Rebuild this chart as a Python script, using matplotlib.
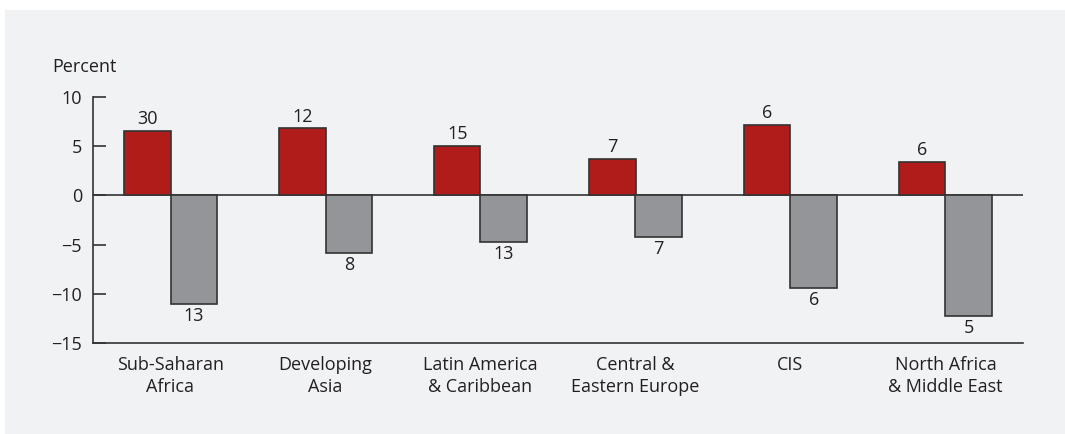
import matplotlib
matplotlib.use("Agg")
from matplotlib import pyplot as plt
import numpy as np

categories = ["Sub-Saharan\nAfrica", "Developing\nAsia", "Latin America\n& Caribbean",
              "Central &\nEastern Europe", "CIS", "North Africa\n& Middle East"]
red_values = [6.5, 6.8, 5.0, 3.7, 7.2, 3.4]
gray_values = [-11.0, -5.9, -4.7, -4.25, -9.4, -12.3]
red_labels = ["30", "12", "15", "7", "6", "6"]
gray_labels = ["13", "8", "13", "7", "6", "5"]

RED = "#B01C1A"
GRAY = "#939598"
EDGE = "#333333"
PANEL = "#F1F2F4"
TEXT = "#231F20"

plt.rcParams["font.family"] = ["Open Sans", "DejaVu Sans"]
plt.rcParams["font.size"] = 13

fig = plt.figure(figsize=(10.65, 4.34), dpi=100)
fig.patch.set_facecolor("white")
# grey panel behind the chart
fig.patches.append(plt.Rectangle((5 / 1065, 0), 1060 / 1065, 424 / 434,
                                 transform=fig.transFigure, facecolor=PANEL,
                                 edgecolor="none", zorder=-1))

ax = fig.add_axes([93 / 1065, 1 - 343 / 434, 930 / 1065, 246 / 434])
ax.set_facecolor(PANEL)

x = np.arange(len(categories))
w = 0.3
ax.bar(x - w / 2, red_values, width=w, color=RED, edgecolor=EDGE, linewidth=1.2, zorder=3)
ax.bar(x + w / 2, gray_values, width=w, color=GRAY, edgecolor=EDGE, linewidth=1.2, zorder=3)

for i in range(len(categories)):
    ax.text(x[i] - w / 2, red_values[i] + 0.3, red_labels[i], ha="center", va="bottom",
            color=TEXT, fontsize=13)
    ax.text(x[i] + w / 2, gray_values[i] - 0.3, gray_labels[i], ha="center", va="top",
            color=TEXT, fontsize=13)

ax.axhline(0, color=EDGE, linewidth=1.2, zorder=2)

ax.set_xlim(-0.5, 5.5)
ax.set_ylim(-15, 10)
ax.set_yticks([-15, -10, -5, 0, 5, 10])
ax.set_yticklabels(["\u221215", "\u221210", "\u22125", "0", "5", "10"])
ax.set_xticks(x)
ax.set_xticklabels(categories, linespacing=1.35)

for s in ["top", "right"]:
    ax.spines[s].set_visible(False)
for s in ["left", "bottom"]:
    ax.spines[s].set_color(EDGE)
    ax.spines[s].set_linewidth(1.2)

ax.tick_params(axis="y", direction="in", length=9, width=1.2, color=EDGE,
               labelcolor=TEXT, pad=8)
ax.tick_params(axis="x", length=0, labelcolor=TEXT, pad=9)

ax.text(-0.044, 1.085, "Percent", transform=ax.transAxes, ha="left", va="bottom",
        color=TEXT, fontsize=13)

fig.savefig("out.png", dpi=100, facecolor="white")
